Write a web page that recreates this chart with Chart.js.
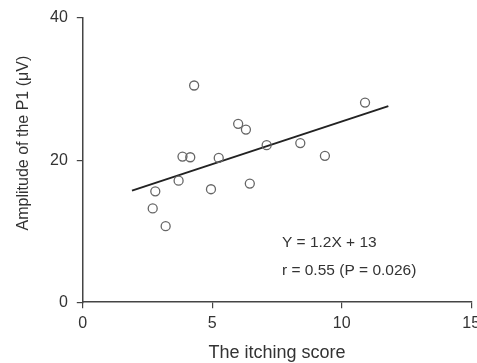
<!DOCTYPE html>
<html>
<head>
<meta charset="utf-8">
<script src="https://cdn.jsdelivr.net/npm/chart.js@4"></script>
<style>
  html, body { margin: 0; padding: 0; background: #fff; }
  #wrap { width: 477px; height: 363px; }
</style>
</head>
<body>
<div id="wrap"><canvas id="chart" width="477" height="363"></canvas></div>
<script>
// itching score vs P1 amplitude
const itchScore = [4.3, 10.9, 6.0, 6.3, 7.1, 8.4, 9.35, 3.85, 4.15, 5.25, 3.7, 6.45, 4.95, 2.8, 2.7, 3.2];
const p1Amp = [30.5, 28.1, 25.1, 24.3, 22.1, 22.4, 20.6, 20.5, 20.4, 20.3, 17.1, 16.7, 15.9, 15.6, 13.2, 10.7];

// regression line ends
const fitX = [1.9, 11.8];
const fitY = [15.7, 27.6];

const xTicks = [0, 5, 10, 15];
const yTicks = [0, 20, 40];

const yTitle = 'Amplitude of the P1 (\u03bcV)';
const eqText = ['Y = 1.2X + 13', 'r = 0.55 (P = 0.026)'];
const eqPos = [[7.69, 8.36], [7.69, 4.41]];

const FONT = "'Liberation Sans', Arial, sans-serif";

// equation text + the y title (it sits a bit above the middle in the original)
const annotate = {
  id: 'annotate',
  afterDatasetsDraw(chart) {
    const { ctx, chartArea, scales: { x, y } } = chart;
    ctx.save();
    ctx.fillStyle = '#333';
    ctx.font = '15.5px ' + FONT;
    ctx.textAlign = 'left';
    ctx.textBaseline = 'middle';
    eqText.forEach((t, i) => {
      ctx.fillText(t, x.getPixelForValue(eqPos[i][0]), y.getPixelForValue(eqPos[i][1]));
    });

    ctx.translate(chartArea.left - 59, (chartArea.top + chartArea.bottom) / 2 - 17);
    ctx.rotate(-Math.PI / 2);
    ctx.textAlign = 'center';
    ctx.font = '16px ' + FONT;
    ctx.fillText(yTitle, 0, 0);
    ctx.restore();
  }
};

const ctx = document.getElementById('chart').getContext('2d');
new Chart(ctx, {
  type: 'scatter',
  data: {
    datasets: [
      {
        label: 'data',
        data: itchScore.map((v, i) => ({ x: v, y: p1Amp[i] })),
        pointStyle: 'circle',
        pointRadius: 4.5,
        pointBackgroundColor: 'rgba(255,255,255,0)',
        pointBorderColor: '#666',
        pointBorderWidth: 1.3
      },
      {
        label: 'fit',
        type: 'line',
        data: fitX.map((v, i) => ({ x: v, y: fitY[i] })),
        borderColor: '#222',
        borderWidth: 2,
        pointRadius: 0,
        fill: false
      }
    ]
  },
  options: {
    responsive: false,
    animation: false,
    layout: { padding: { left: 41, right: 5, top: 18, bottom: -1 } },
    plugins: { legend: { display: false }, tooltip: { enabled: false } },
    scales: {
      x: {
        type: 'linear',
        min: 0, max: 15,
        afterBuildTicks: s => { s.ticks = xTicks.map(v => ({ value: v })); },
        afterFit: s => { s.paddingRight = 0; s.paddingLeft = 0; },
        border: { color: '#444', width: 1.5 },
        grid: { drawOnChartArea: false, color: '#444', tickLength: 6, lineWidth: 1.2 },
        ticks: { color: '#333', font: { family: FONT, size: 16 }, padding: 6 },
        title: { display: true, text: 'The itching score', color: '#333', font: { family: FONT, size: 18 }, padding: { top: 3, bottom: 0 } }
      },
      y: {
        type: 'linear',
        min: 0, max: 40,
        afterBuildTicks: s => { s.ticks = yTicks.map(v => ({ value: v })); },
        afterFit: s => { s.paddingTop = 0; s.paddingBottom = 0; },
        border: { color: '#444', width: 1.5 },
        grid: { drawOnChartArea: false, color: '#444', tickLength: 6, lineWidth: 1.2 },
        ticks: { color: '#333', font: { family: FONT, size: 16 }, padding: 9 }
      }
    }
  },
  plugins: [annotate]
});
</script>
</body>
</html>
